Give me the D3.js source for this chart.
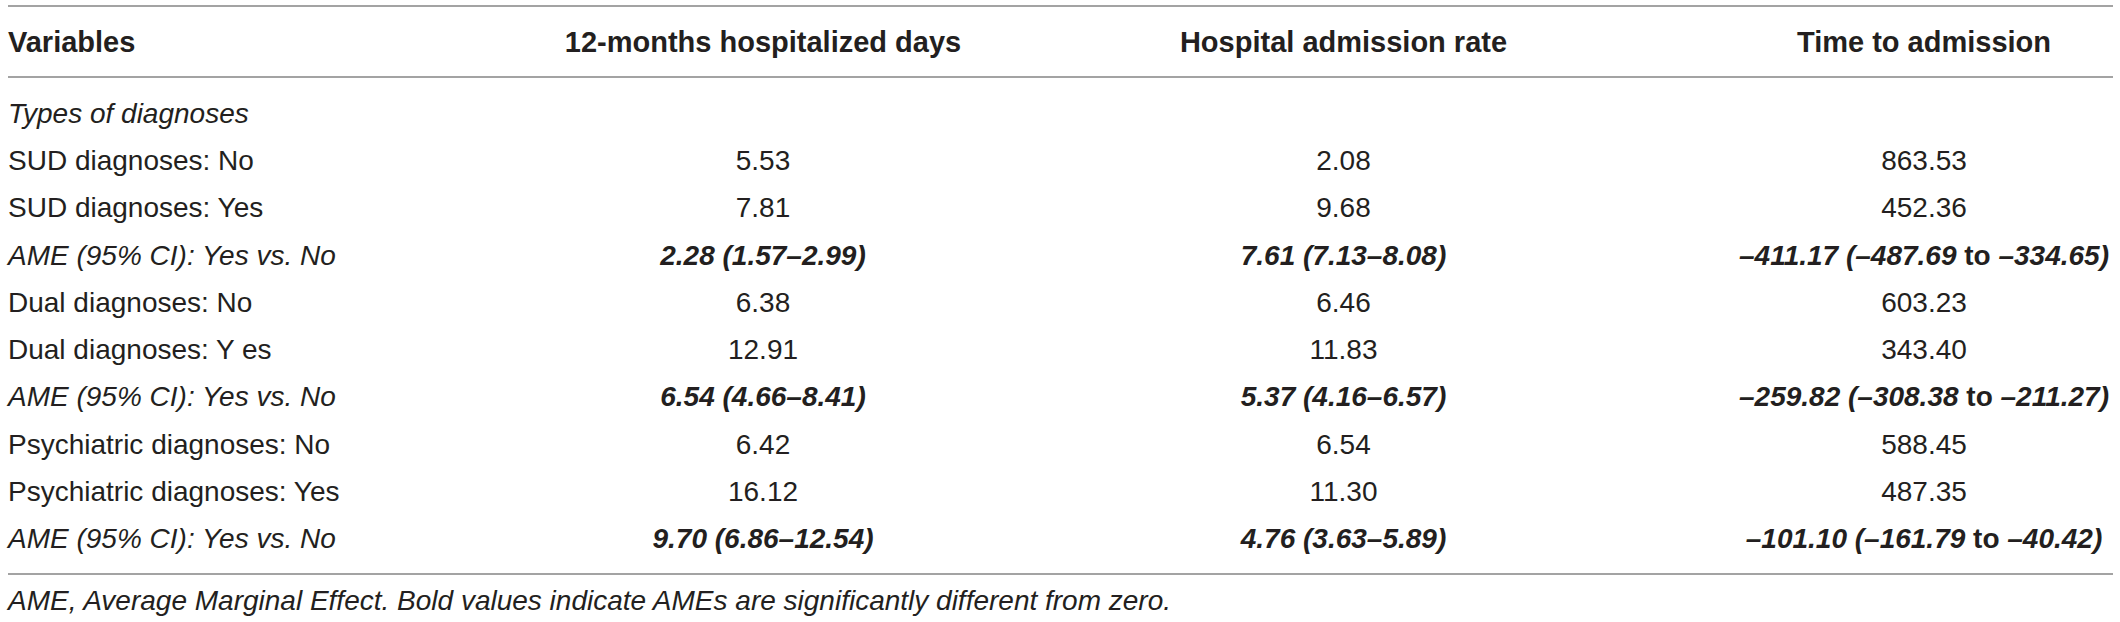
<!DOCTYPE html>
<html>
<head>
<meta charset="utf-8">
<script src="https://cdn.jsdelivr.net/npm/d3@7"></script>
<style>
  body { margin: 0; background: #fff; }
  svg text { font-family: "Liberation Sans", Arial, sans-serif; fill: #231f20; }
</style>
</head>
<body>
<svg id="tbl" xmlns="http://www.w3.org/2000/svg" width="2120" height="622"></svg>
<script>
var headers = ["Variables", "12-months hospitalized days", "Hospital admission rate", "Time to admission"];

var rowLabels = [
  "Types of diagnoses",
  "SUD diagnoses: No",
  "SUD diagnoses: Yes",
  "AME (95% CI): Yes vs. No",
  "Dual diagnoses: No",
  "Dual diagnoses: Y es",
  "AME (95% CI): Yes vs. No",
  "Psychiatric diagnoses: No",
  "Psychiatric diagnoses: Yes",
  "AME (95% CI): Yes vs. No"
];

var hospDays = ["", "5.53", "7.81", "2.28 (1.57–2.99)", "6.38", "12.91", "6.54 (4.66–8.41)", "6.42", "16.12", "9.70 (6.86–12.54)"];
var admRate = ["", "2.08", "9.68", "7.61 (7.13–8.08)", "6.46", "11.83", "5.37 (4.16–6.57)", "6.54", "11.30", "4.76 (3.63–5.89)"];
var timeAdm = ["", "863.53", "452.36", "–411.17 (–487.69 to –334.65)", "603.23", "343.40", "–259.82 (–308.38 to –211.27)", "588.45", "487.35", "–101.10 (–161.79 to –40.42)"];

// italic rows: section label + AME rows
var rowKind = ["section", "plain", "plain", "ame", "plain", "plain", "ame", "plain", "plain", "ame"];

var footnote = "AME, Average Marginal Effect. Bold values indicate AMEs are significantly different from zero.";

var W = 2120, H = 622;
var svg = d3.select("#tbl");

var y = d3.scalePoint().domain(d3.range(rowLabels.length)).range([113, 538]);
var x = d3.scalePoint().domain([1, 2, 3]).range([763, 1924]);
var left = 8, right = 2113;
var capHalf = 10;

// rules
var rules = [6, 77, 574];
svg.selectAll("line.rule")
  .data(rules)
  .enter().append("line")
  .attr("class", "rule")
  .attr("x1", left).attr("x2", right)
  .attr("y1", function(d) { return d; })
  .attr("y2", function(d) { return d; })
  .attr("stroke", "#a3a3a3")
  .attr("stroke-width", 2);

// header
svg.selectAll("text.head")
  .data(headers)
  .enter().append("text")
  .attr("class", "head")
  .attr("x", function(d, i) { return i === 0 ? left : x(i); })
  .attr("y", 52)
  .attr("text-anchor", function(d, i) { return i === 0 ? "start" : "middle"; })
  .style("font-size", "29px")
  .style("font-weight", "bold")
  .text(function(d) { return d; });

// row labels
svg.selectAll("text.lab")
  .data(rowLabels)
  .enter().append("text")
  .attr("class", "lab")
  .attr("x", left)
  .attr("y", function(d, i) { return y(i) + capHalf; })
  .style("font-size", "28px")
  .style("font-style", function(d, i) { return rowKind[i] === "plain" ? "normal" : "italic"; })
  .text(function(d) { return d; });

// value cells
var cols = [hospDays, admRate, timeAdm];
cols.forEach(function(vals, c) {
  var cell = svg.selectAll("text.c" + c)
    .data(vals)
    .enter().append("text")
    .attr("class", "c" + c)
    .attr("x", x(c + 1))
    .attr("y", function(d, i) { return y(i) + capHalf; })
    .attr("text-anchor", "middle")
    .style("font-size", "28px");

  cell.each(function(d, i) {
    var t = d3.select(this);
    if (rowKind[i] !== "ame") { t.text(d); return; }
    var parts = d.split(" to ");
    parts.forEach(function(p, k) {
      if (k > 0) {
        t.append("tspan").style("font-weight", "bold").style("font-style", "normal").text(" to ");
      }
      t.append("tspan").style("font-weight", "bold").style("font-style", "italic").text(p);
    });
  });
});

// footnote
svg.append("text")
  .attr("x", left)
  .attr("y", 610)
  .style("font-size", "28px")
  .style("font-style", "italic")
  .text(footnote);
</script>
</body>
</html>
